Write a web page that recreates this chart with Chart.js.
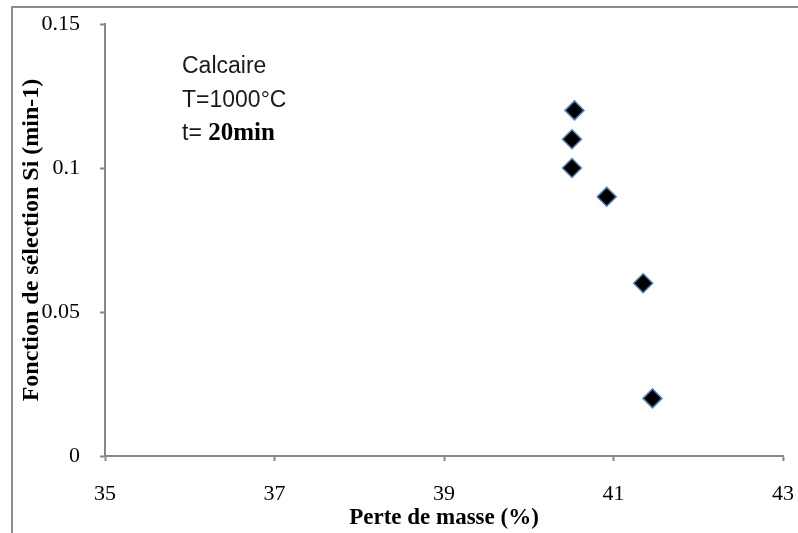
<!DOCTYPE html>
<html>
<head>
<meta charset="utf-8">
<script src="https://cdn.jsdelivr.net/npm/chart.js@4/dist/chart.umd.min.js"></script>
<style>
  html, body { margin: 0; padding: 0; background: #ffffff; }
  #wrap { width: 798px; height: 533px; position: relative; }
</style>
</head>
<body>
<div id="wrap"><canvas id="chart" width="798" height="533"></canvas></div>
<script>
// Mass loss (%) and selection function Si (min-1) for limestone at 1000 °C
const massLoss = [40.54, 40.51, 40.51, 40.92, 41.35, 41.46];
const selection = [0.12, 0.11, 0.10, 0.09, 0.06, 0.02];

// Axis ranges and steps
const xRange = [35, 43];
const xStep = 2;
const yRange = [0, 0.15];
const yStep = 0.05;

// Text labels
const xTitle = 'Perte de masse (%)';
const yTitle = 'Fonction de sélection Si (min-1)';
const noteLines = ['Calcaire', 'T=1000°C'];
const noteTimePrefix = 't= ';
const noteTimeValue = '20min';

const axisGrey = '#878787';
const serif = "'Liberation Serif', 'Times New Roman', serif";
const sans = "'Liberation Sans', Arial, sans-serif";

// Outer frame around the chart
const framePlugin = {
  id: 'frame',
  beforeDraw(chart) {
    const ctx = chart.ctx;
    ctx.save();
    ctx.strokeStyle = '#8c8c8c';
    ctx.lineWidth = 2;
    ctx.strokeRect(12, 7, chart.width + 20, chart.height + 20);
    ctx.restore();
  }
};

// Text block in the upper left of the plot
const notePlugin = {
  id: 'note',
  afterDraw(chart) {
    const ctx = chart.ctx;
    const x = chart.chartArea.left + 77;
    let y = chart.chartArea.top + 49;
    ctx.save();
    ctx.fillStyle = '#1a1a1a';
    ctx.textBaseline = 'alphabetic';
    ctx.textAlign = 'left';
    ctx.font = '23px ' + sans;
    noteLines.forEach(line => {
      ctx.fillText(line, x, y);
      y += 33.5;
    });
    ctx.fillText(noteTimePrefix, x, y);
    const w = ctx.measureText(noteTimePrefix).width;
    ctx.font = 'bold 25px ' + serif;
    ctx.fillStyle = '#000000';
    ctx.fillText(noteTimeValue, x + w, y);
    ctx.restore();
  }
};

new Chart(document.getElementById('chart'), {
  type: 'scatter',
  data: {
    datasets: [{
      data: massLoss.map((v, i) => ({ x: v, y: selection[i] })),
      pointStyle: 'rectRot',
      pointRadius: 9.5,
      pointHoverRadius: 9.5,
      backgroundColor: '#000000',
      borderColor: '#4f81bd',
      borderWidth: 1.5
    }]
  },
  options: {
    responsive: false,
    animation: false,
    layout: { padding: { left: 0, right: 15, top: 24, bottom: 0 } },
    plugins: {
      legend: { display: false },
      tooltip: { enabled: false }
    },
    scales: {
      x: {
        type: 'linear',
        min: xRange[0],
        max: xRange[1],
        afterFit(scale) {
          scale.height = 77;
          scale.paddingLeft = 0;
          scale.paddingRight = 0;
        },
        ticks: {
          stepSize: xStep,
          padding: 20,
          color: '#000000',
          font: { family: serif, size: 22 }
        },
        grid: { drawOnChartArea: false, tickLength: 5, tickColor: axisGrey, tickWidth: 2 },
        border: { color: axisGrey, width: 2 },
        title: {
          display: true,
          text: xTitle,
          color: '#000000',
          font: { family: serif, size: 23, weight: 'bold' },
          padding: { top: 0, bottom: 1 }
        }
      },
      y: {
        type: 'linear',
        min: yRange[0],
        max: yRange[1],
        afterFit(scale) {
          scale.width = 105;
          scale.paddingTop = 0;
          scale.paddingBottom = 0;
        },
        ticks: {
          stepSize: yStep,
          padding: 20,
          color: '#000000',
          font: { family: serif, size: 22 },
          callback: v => String(Math.round(v * 100) / 100)
        },
        grid: { drawOnChartArea: false, tickLength: 5, tickColor: axisGrey, tickWidth: 2 },
        border: { color: axisGrey, width: 2 },
        title: {
          display: true,
          text: yTitle,
          color: '#000000',
          font: { family: serif, size: 24, weight: 'bold' },
          padding: { top: 17, bottom: 0 }
        }
      }
    }
  },
  plugins: [framePlugin, notePlugin]
});
</script>
</body>
</html>
